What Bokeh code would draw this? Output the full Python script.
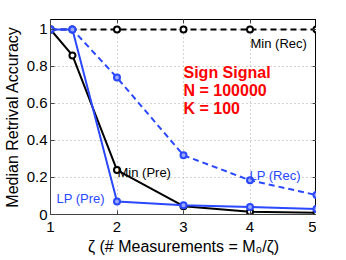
from bokeh.plotting import figure
from bokeh.models import Label, LinearAxis, FixedTicker, Range1d
from bokeh.embed import file_html
from bokeh.resources import INLINE

zeta = [1, 1.33, 2, 3, 4, 5]
min_rec = [1, 1, 1, 1, 1, 1]
min_pre = [1, 0.86, 0.24, 0.045, 0.015, 0.01]
lp_pre = [1, 1, 0.07, 0.05, 0.04, 0.03]
lp_rec = [1, 1, 0.74, 0.32, 0.185, 0.105]

x_ticks = [1, 2, 3, 4, 5]
y_ticks = [0, 0.2, 0.4, 0.6, 0.8, 1]
y_tick_labels = ["0", "0.2", "0.4", "0.6", "0.8", "1"]

FONT = "Liberation Sans"
BLUE = "#2a48ff"

p = figure(frame_width=266, frame_height=195, output_backend="svg", toolbar_location=None,
           x_range=Range1d(1, 5), y_range=Range1d(0, 1.054),
           min_border_left=0, min_border_right=0, min_border_top=19, min_border_bottom=0)
p.background_fill_color = "white"
p.border_fill_color = "white"
p.outline_line_color = "black"
p.outline_line_width = 1

p.xaxis.ticker = FixedTicker(ticks=x_ticks)
p.yaxis.ticker = FixedTicker(ticks=y_ticks)
p.yaxis.major_label_overrides = {t: l for t, l in zip(y_ticks, y_tick_labels)}
p.xaxis.major_label_overrides = {t: str(t) for t in x_ticks}
for ax in (p.xaxis[0], p.yaxis[0]):
    ax.major_tick_in = 4
    ax.major_tick_out = 0
    ax.minor_tick_in = 0
    ax.minor_tick_out = 0
    ax.major_label_text_font = FONT
    ax.major_label_text_font_size = "15px"
    ax.major_label_text_color = "black"
    ax.axis_label_text_font = FONT
    ax.axis_label_text_font_size = "16px"
    ax.axis_label_text_font_style = "normal"
    ax.axis_label_text_color = "black"
    ax.axis_line_color = "#444444"
    ax.major_tick_line_color = "#444444"
p.xaxis.axis_label = "ζ (# Measurements = M₀/ζ)"
p.yaxis.axis_label = "Median Retrival Accuracy"
p.xaxis.major_label_standoff = 7
p.xaxis.axis_label_standoff = 3
p.yaxis.major_label_standoff = 3
p.yaxis.axis_label_standoff = 3

# box ticks on the right and top (MATLAB style)
for loc, tick in (("right", y_ticks), ("above", x_ticks)):
    ax = LinearAxis(ticker=FixedTicker(ticks=tick),
                    major_label_overrides={t: "" for t in tick},
                    major_tick_in=4, major_tick_out=0, minor_tick_in=0, minor_tick_out=0,
                    major_label_standoff=0, axis_line_color="black",
                    major_tick_line_color="#444444")
    p.add_layout(ax, loc)

p.xgrid.grid_line_dash = "1 3"
p.ygrid.grid_line_dash = "1 3"
p.xgrid.grid_line_color = "#aaaaaa"
p.ygrid.grid_line_color = "#aaaaaa"

# Min (Rec)
p.line(zeta, min_rec, line_color="black", line_width=2, line_dash="6 4")
p.scatter(zeta, min_rec, size=6, line_color="black", fill_color="white", line_width=2)
# Min (Pre)
p.line(zeta, min_pre, line_color="black", line_width=2)
p.scatter(zeta, min_pre, size=6, line_color="black", fill_color="white", line_width=2)
# LP (Rec)
p.line(zeta, lp_rec, line_color=BLUE, line_width=2, line_dash="6 4")
p.scatter(zeta, lp_rec, size=6, line_color=BLUE, fill_color="#9aa8ff", line_width=2)
# LP (Pre)
p.line(zeta, lp_pre, line_color=BLUE, line_width=2)
p.scatter(zeta, lp_pre, size=6, line_color=BLUE, fill_color="#9aa8ff", line_width=2)

def lab(x, y, t, color="black", size="13px", style="normal"):
    p.add_layout(Label(x=x, y=y, x_units="screen", y_units="screen", text=t,
                       text_color=color, text_font=FONT, text_font_size=size,
                       text_font_style=style, text_baseline="alphabetic"))

# screen coords relative to frame bottom-left (frame 266 x 195)
lab(200, 214 - 43, "Min (Rec)")
lab(67, 214 - 172, "Min (Pre)")
lab(6, 214 - 198, "LP (Pre)", BLUE)
lab(199, 214 - 175, "LP (Rec)", BLUE)
lab(133, 214 - 72, "Sign Signal", "red", "16px", "bold")
lab(133, 214 - 90, "N = 100000", "red", "16px", "bold")
lab(133, 214 - 108, "K = 100", "red", "16px", "bold")

open("out.html", "w").write(file_html(p, INLINE))
